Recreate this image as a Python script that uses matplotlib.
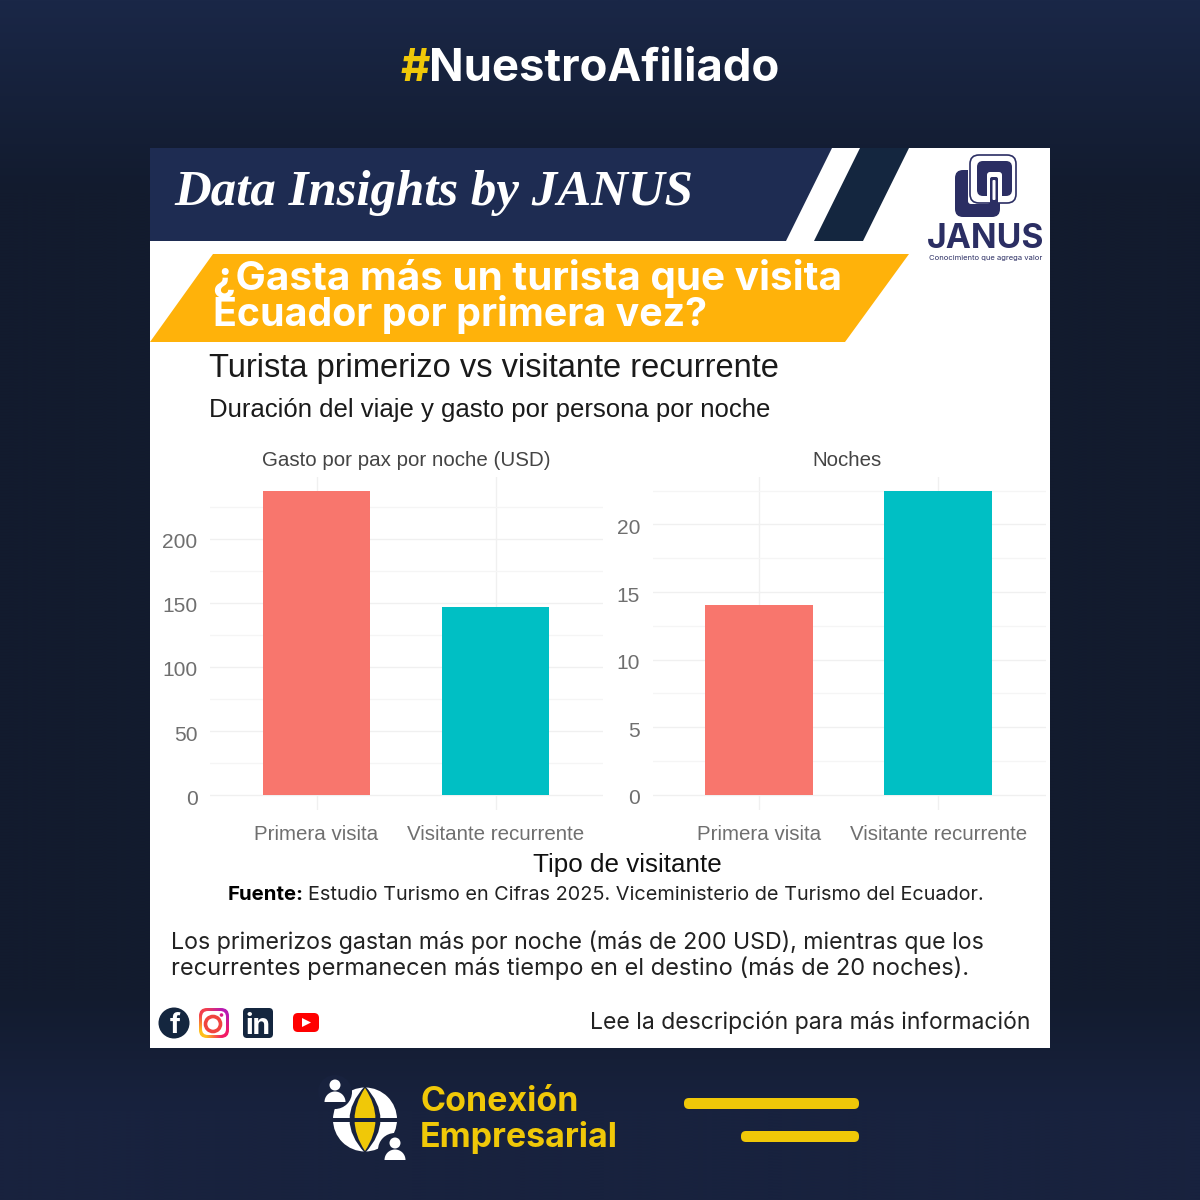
import numpy as np
import matplotlib
matplotlib.use("Agg")
import matplotlib.pyplot as plt
from matplotlib.patches import Polygon, Circle, FancyBboxPatch, Rectangle, Wedge, PathPatch
from matplotlib.path import Path
from matplotlib.colors import to_rgb
from matplotlib.ticker import MultipleLocator
from matplotlib.transforms import ScaledTranslation

# datos
categorias = ["Primera visita", "Visitante recurrente"]
gasto = [237.5, 146.7]
noches = [14.05, 22.5]
colores_barras = ["#f8766d", "#00bfc4"]

NAVY = "#1e2c52"
DARK = "#14263f"
INK = "#2b2e63"
YELLOW = "#f0c808"
SANS = "Inter"
R_FONT = "Liberation Sans"

fig = plt.figure(figsize=(12, 12), dpi=100)
bg = fig.add_axes([0, 0, 1, 1])
bg.set_axis_off()


def px(size):
    return size * 0.72


def rbox(x0, y0, x1, y1, r, color, z=3, ec="none", lw=0):
    p = FancyBboxPatch((x0 + r, y0 + r), x1 - x0 - 2 * r, y1 - y0 - 2 * r,
                       boxstyle="round,pad=%f,rounding_size=%f" % (r, r),
                       fc=color, ec=ec, lw=lw, zorder=z)
    bg.add_patch(p)
    return p


def lens(cx, top, bot, ancho, color, z=4):
    # huso del globo, dos curvas que se juntan arriba y abajo
    cy = (top + bot) / 2
    verts = [(cx, top), (cx + ancho, cy), (cx, bot), (cx - ancho, cy), (cx, top)]
    codes = [Path.MOVETO, Path.CURVE3, Path.CURVE3, Path.CURVE3, Path.CURVE3]
    bg.add_patch(PathPatch(Path(verts, codes), fc=color, ec="none", zorder=z))


def txt(x, y, s, size, color="black", weight="normal", family=SANS, ha="left", style="normal", z=5):
    return bg.text(x, y, s, fontsize=px(size), color=color, fontweight=weight, family=family,
                   ha=ha, va="center", fontstyle=style, zorder=z)


# fondo: mas claro arriba y abajo
filas = np.linspace(0, 1200, 400)
paradas = [0, 190, 995, 1110, 1200]
tonos = [to_rgb("#1a2747"), to_rgb("#121b2e"), to_rgb("#121b2e"), to_rgb("#18223e"), to_rgb("#18223e")]
img = np.stack([np.interp(filas, paradas, [c[i] for c in tonos]) for i in range(3)], axis=1)[:, None, :]
bg.imshow(img, extent=[0, 1200, 1200, 0], aspect="auto", zorder=0)

# panel blanco y cabecera
bg.add_patch(Rectangle((150, 148), 900, 900, fc="white", ec="none", zorder=1))
bg.add_patch(Polygon([(150, 148), (832, 148), (786, 241), (150, 241)], fc=NAVY, ec="none", zorder=2))
bg.add_patch(Polygon([(860, 148), (909, 148), (863, 241), (814, 241)], fc=DARK, ec="none", zorder=2))
bg.add_patch(Polygon([(150, 342), (213, 254), (909, 254), (845, 342)], fc="#ffb20a", ec="none", zorder=2))

txt(401, 69, "#", 45.4, YELLOW, "bold")
txt(429, 69, "NuestroAfiliado", 45.4, "white", "bold")
txt(174, 193, "Data Insights by JANUS", 50.9, "white", "bold", "Liberation Serif", style="italic")
txt(213, 278, "¿Gasta más un turista que visita", 40.4, "white", "bold")
txt(213, 315, "Ecuador por primera vez?", 39.4, "white", "bold")

txt(209, 368, "Turista primerizo vs visitante recurrente", 32.7, "#1a1a1a", family=R_FONT)
txt(209, 410, "Duración del viaje y gasto por persona por noche", 25.7, "#1a1a1a", family=R_FONT)
txt(627, 865, "Tipo de visitante", 26, "#111111", family=R_FONT, ha="center")

# logo JANUS
rbox(955, 170, 1000, 217, 8, INK)
rbox(968, 165, 990, 204, 3, "white")
rbox(970, 155, 1016, 203, 9, "white", 4, INK, 1.2)
rbox(977, 161, 1012, 196, 6, INK, 4)
rbox(987, 172, 1002, 200, 3, "white", 4)
rbox(990, 177, 998, 205, 2, INK, 5)
rbox(992.5, 180, 995.5, 200, 1, "white", 5)
txt(986, 239, "JANUS", 33.7, INK, "bold", ha="center")
txt(986, 258, "Conocimiento que agrega valor", 7.6, INK, ha="center")

# fuente y textos de pie
txt(228, 895, "Fuente:", 20.4, "black", "bold")
txt(308, 895, "Estudio Turismo en Cifras 2025. Viceministerio de Turismo del Ecuador.", 19.9, "#222222")
txt(171, 942, "Los primerizos gastan más por noche (más de 200 USD), mientras que los", 23.2, "#222222")
txt(171, 968, "recurrentes permanecen más tiempo en el destino (más de 20 noches).", 23.6, "#222222")
txt(1030, 1022, "Lee la descripción para más información", 23, "#222222", ha="right")

# iconos de redes
bg.add_patch(Circle((174, 1023), 15.5, fc=DARK, ec="none", zorder=3))
txt(175, 1026, "f", 27, "white", "bold", ha="center")
ig = np.array([[[0.95, 0.25, 0.3], [0.72, 0.1, 0.7]], [[1.0, 0.75, 0.1], [0.95, 0.1, 0.4]]])
ig_img = bg.imshow(ig, extent=[198, 230, 1039, 1007], aspect="auto", zorder=3, interpolation="bilinear")
anillo = rbox(199, 1008, 229, 1038, 8, "none")
ig_img.set_clip_path(anillo)
rbox(202, 1011, 226, 1035, 6, "white", 4)
bg.add_patch(Circle((213, 1024), 7.5, fc="none", ec="#f0443f", lw=2.6, zorder=5))
bg.add_patch(Circle((221.5, 1015), 1.8, fc="#d81b8a", ec="none", zorder=5))
rbox(243, 1008, 273, 1038, 4, DARK)
txt(258, 1026, "in", 28, "white", "bold", ha="center")
rbox(293, 1013, 319, 1032, 5, "#ff0000")
bg.add_patch(Polygon([(302, 1018), (302, 1027), (311, 1022.5)], fc="white", ec="none", zorder=4))

# logo Conexion Empresarial
bg_color = "#18223e"
bg.add_patch(Circle((365, 1119.5), 32, fc="white", ec="none", zorder=3))
lens(365, 1086, 1153, 31, bg_color)
lens(365, 1088, 1151, 21, YELLOW)
bg.add_patch(Rectangle((330, 1117.5), 70, 4, fc=bg_color, ec="none", zorder=4))
for cx, cy in [(335, 1085), (395, 1143)]:
    bg.add_patch(Circle((cx, cy + 7), 17, fc=bg_color, ec="none", zorder=4))
    bg.add_patch(Circle((cx, cy), 5.5, fc="white", ec="none", zorder=5))
    bg.add_patch(Wedge((cx, cy + 17), 10.5, 180, 360, fc="white", ec="none", zorder=5))
txt(420, 1102, "Conexión", 34, YELLOW, "bold")
txt(420, 1137, "Empresarial", 34, YELLOW, "bold")
rbox(684, 1098, 859, 1109, 5, YELLOW)
rbox(741, 1131, 859, 1142, 5, YELLOW)

bg.set_xlim(0, 1200)
bg.set_ylim(1200, 0)


def panel(x0, x1, y_top, y_bot, valores, titulo, x_titulo, ylim, mayor, menor):
    ax = fig.add_axes([x0 / 1200, 1 - y_bot / 1200, (x1 - x0) / 1200, (y_bot - y_top) / 1200])
    ax.set_zorder(10)
    ax.patch.set_alpha(0)
    pos = np.arange(1, len(categorias) + 1)
    ax.bar(pos, valores, width=0.6, color=colores_barras, zorder=3)
    ax.set_xlim(0.405, 2.6)
    ax.set_ylim(*ylim)
    ax.set_xticks(pos, categorias)
    ax.yaxis.set_major_locator(MultipleLocator(mayor))
    ax.yaxis.set_minor_locator(MultipleLocator(menor))
    ax.grid(True, which="major", color="#f0f0f0", lw=1.0, zorder=0)
    ax.grid(True, which="minor", axis="y", color="#f5f5f5", lw=0.9, zorder=0)
    ax.tick_params(which="both", length=0)
    ax.tick_params(axis="y", labelsize=px(21), labelcolor="#6f6f6f", pad=9)
    ax.tick_params(axis="x", labelsize=px(20.5), labelcolor="#6f6f6f", pad=11)
    # las etiquetas del eje y van un poco mas abajo que la linea
    bajar = ScaledTranslation(0, -2 / 100, fig.dpi_scale_trans)
    for l in ax.get_xticklabels() + ax.get_yticklabels():
        l.set_family(R_FONT)
    for l in ax.get_yticklabels():
        l.set_transform(l.get_transform() + bajar)
    for s in ax.spines.values():
        s.set_visible(False)
    txt(x_titulo, 460, titulo, 20.5, "#444444", family=R_FONT, ha="center")
    return ax


panel(210, 603, 477, 810, gasto, "Gasto por pax por noche (USD)", 406.5, (-11.7, 248.4), 50, 25)
panel(652.6, 1045.6, 477, 810, noches, "Noches", 847.5, (-1.11, 23.5), 5, 2.5)

fig.savefig("out.png", dpi=100)
